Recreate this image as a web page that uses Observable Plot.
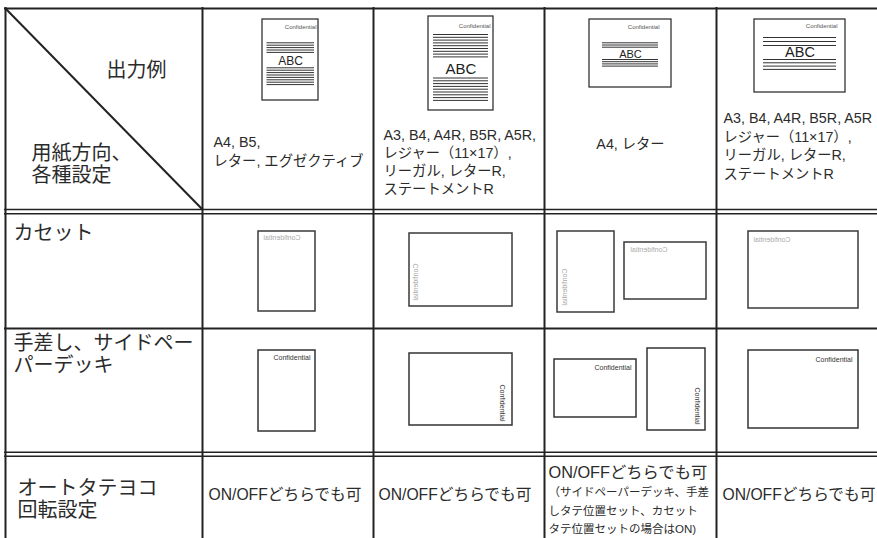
<!DOCTYPE html>
<html><head><meta charset="utf-8">
<script src="https://cdn.jsdelivr.net/npm/d3@7"></script>
<script src="https://cdn.jsdelivr.net/npm/@observablehq/plot@0.6"></script>
<style>html,body{margin:0;padding:0;background:#fff;} #chart svg{display:block}</style>
</head><body><div id="chart"></div>
<script>
// ---- text content ----
const cornerTop = "出力例";
const cornerBottom = ["用紙方向、", "各種設定"];
const rowLabels = [["カセット"], ["手差し、サイドペー", "パーデッキ"], ["オートタテヨコ", "回転設定"]];
const paperSizes = [
  ["A4, B5,", "レター, エグゼクティブ"],
  ["A3, B4, A4R, B5R, A5R,", "レジャー（11×17）,", "リーガル, レターR,", "ステートメントR"],
  ["A4, レター"],
  ["A3, B4, A4R, B5R, A5R", "レジャー（11×17）,", "リーガル, レターR,", "ステートメントR"]
];
const autoRotate = ["ON/OFFどちらでも可", "ON/OFFどちらでも可", "ON/OFFどちらでも可", "ON/OFFどちらでも可"];
const autoRotateNote = ["（サイドペーパーデッキ、手差", "しタテ位置セット、カセット", "タテ位置セットの場合はON)"];
const sampleWord = "ABC";
const stampWord = "Confidential";

// ---- layout of the table (pixels) ----
const colLines = [5, 202, 373, 544, 716];
const tableTop = 8, tableRight = 900, tableBottom = 560;
const singleRows = [8, 328];
const doubleRows = [209, 213.3, 451.7, 455.7];
const sizeTextPos = [
  {x: 213, ys: [142, 161], anchor: "start"},
  {x: 383, ys: [135, 153, 171, 189], anchor: "start"},
  {x: 630, ys: [144], anchor: "middle"},
  {x: 723, ys: [118, 137, 155, 174], anchor: "start"}
];
const rowLabelPos = [{x: 13, ys: [233]}, {x: 13, ys: [343, 365]}, {x: 17, ys: [488, 510]}];
const autoPos = [{x: 208, y: 494, s: 15.7}, {x: 378, y: 494, s: 15.7}, {x: 548, y: 472, s: 16.3}, {x: 722, y: 494, s: 15.7}];
const notePos = {x: 548, ys: [492, 511, 529]};

const headerIcons = [
  {x1: 262, x2: 318, y1: 19, y2: 100, lx1: 266.5, lx2: 314, top: [42.3, 5, 2.4], bot: [67.3, 8, 2.4], abcY: 60.7, abcSize: 12, confX: 316, confY: 27},
  {x1: 428, x2: 493, y1: 16, y2: 110, lx1: 433, lx2: 488, top: [34, 9, 2.8], bot: [77.5, 9, 2.8], abcY: 68.5, abcSize: 15, confX: 490, confY: 26},
  {x1: 589, x2: 671, y1: 19, y2: 87, lx1: 602, lx2: 658, top: [42.3, 3, 2.2], bot: [59, 4, 2.2], abcY: 54, abcSize: 11, confX: 659, confY: 27},
  {x1: 754, x2: 845, y1: 19, y2: 92, lx1: 763, lx2: 836, top: [37, 3, 4], bot: [59, 4, 3.3], abcY: 52, abcSize: 14.5, confX: 837, confY: 26}
];
const cassetteSheets = [
  {x1: 258, x2: 315, y1: 231, y2: 311}, {x1: 409, x2: 512, y1: 233, y2: 306},
  {x1: 557, x2: 614, y1: 231, y2: 312}, {x1: 624, x2: 706, y1: 242, y2: 299},
  {x1: 748, x2: 858, y1: 231, y2: 308}
];
const manualSheets = [
  {x1: 258, x2: 315, y1: 350, y2: 431}, {x1: 409, x2: 512, y1: 353, y2: 425},
  {x1: 554, x2: 636, y1: 359, y2: 417}, {x1: 647, x2: 705, y1: 348, y2: 430},
  {x1: 748, x2: 858, y1: 350, y2: 428}
];
// stamps seen through the sheet (mirrored, grey)
const cassetteStampsH = [{x: 263, y: 237}, {x: 630, y: 249}, {x: 753, y: 239}];
const cassetteStampsV = [{x: 415, y: 263}, {x: 564, y: 268}];
// stamps printed face up
const manualStampsH = [{x: 310, y: 357}, {x: 631, y: 367}, {x: 852, y: 359}];
const manualStampsV = [{x: 502, y: 421}, {x: 697, y: 424}];

// ---- derived tables for the marks ----
const ink = "#2b2b2b";
const JP = "'Liberation Sans', 'Noto Sans CJK JP', sans-serif";
const LAT = "'Liberation Sans', Arial, sans-serif";
const GREY_H = "#aaaaaa", GREY_V = "#a9a9a9";

const vRules = colLines.map(x => ({x, y1: tableTop - 1, y2: tableBottom}));
const hSingle = singleRows.map(y => ({y, x1: 4, x2: tableRight}));
const hDouble = doubleRows.map(y => ({y, x1: 4, x2: tableRight}));
const diagonal = [{x1: colLines[0], y1: tableTop, x2: colLines[1], y2: doubleRows[0]}];

const iconStripes = headerIcons.flatMap(ic => {
  const out = [];
  for (const [s, n, st] of [ic.top, ic.bot]) for (let i = 0; i < n; i++) out.push({y: s + i * st, x1: ic.lx1, x2: ic.lx2});
  return out;
});
const abcLabels = headerIcons.map(ic => ({x: (ic.x1 + ic.x2) / 2, y: ic.abcY, size: ic.abcSize, t: sampleWord}));
const confHeader = headerIcons.map(ic => ({x: ic.confX, y: ic.confY, t: stampWord}));

const sizeTexts = paperSizes.flatMap((lines, i) => lines.map((t, j) => ({t, x: sizeTextPos[i].x, y: sizeTextPos[i].ys[j], a: sizeTextPos[i].anchor})));
const rowTexts = rowLabels.flatMap((lines, i) => lines.map((t, j) => ({t, x: rowLabelPos[i].x, y: rowLabelPos[i].ys[j]})));
const cornerTexts = [{t: cornerTop, x: 106, y: 70}, ...cornerBottom.map((t, j) => ({t, x: 31, y: [153, 175][j]}))];
const autoTexts = autoRotate.map((t, i) => ({t, ...autoPos[i]}));
const noteTexts = autoRotateNote.map((t, j) => ({t, x: notePos.x, y: notePos.ys[j]}));

const stamp = (arr) => arr.map(d => ({...d, t: stampWord}));

const plot = Plot.plot({
  width: 877, height: 538,
  marginTop: 0, marginRight: 0, marginBottom: 0, marginLeft: 0,
  x: {domain: [0, 877], range: [0, 877], axis: null},
  y: {domain: [0, 538], range: [0, 538], axis: null},
  style: {background: "#fff"},
  marks: [
    // header icons
    Plot.rect(headerIcons, {x1: "x1", x2: "x2", y1: "y1", y2: "y2", fill: "#fff", stroke: "#333", strokeWidth: 1.3}),
    Plot.ruleY(iconStripes, {y: "y", x1: "x1", x2: "x2", stroke: "#333", strokeWidth: 1}),
    Plot.text(abcLabels, {x: "x", y: "y", text: "t", fontSize: "size", fontFamily: LAT, fill: "#222", stroke: "#fff", strokeWidth: 2, paintOrder: "stroke"}),
    Plot.text(confHeader, {x: "x", y: "y", text: "t", textAnchor: "end", fontSize: 6, fontFamily: LAT, fill: "#555"}),
    // body sheets
    Plot.rect(cassetteSheets, {x1: "x1", x2: "x2", y1: "y1", y2: "y2", fill: "#fff", stroke: "#3a3a3a", strokeWidth: 1.5}),
    Plot.rect(manualSheets, {x1: "x1", x2: "x2", y1: "y1", y2: "y2", fill: "#fff", stroke: "#333", strokeWidth: 1.5}),
    Plot.text(stamp(cassetteStampsH), {x: "x", y: "y", text: "t", textAnchor: "end", fontSize: 7, fontFamily: LAT, fill: GREY_H}),
    Plot.text(stamp(cassetteStampsV), {x: "x", y: "y", text: "t", textAnchor: "start", rotate: 90, fontSize: 7, fontFamily: LAT, fill: GREY_V}),
    Plot.text(stamp(manualStampsH), {x: "x", y: "y", text: "t", textAnchor: "end", fontSize: 7, fontFamily: LAT, fill: "#333"}),
    Plot.text(stamp(manualStampsV), {x: "x", y: "y", text: "t", textAnchor: "end", rotate: 90, fontSize: 7, fontFamily: LAT, fill: "#333"}),
    // table lines
    Plot.ruleX(vRules, {x: "x", y1: "y1", y2: "y2", stroke: "#222", strokeWidth: 2}),
    Plot.ruleY(hSingle, {y: "y", x1: "x1", x2: "x2", stroke: "#222", strokeWidth: 2}),
    Plot.ruleY(hDouble, {y: "y", x1: "x1", x2: "x2", stroke: "#222", strokeWidth: 1.6}),
    Plot.link(diagonal, {x1: "x1", y1: "y1", x2: "x2", y2: "y2", stroke: "#222", strokeWidth: 2}),
    // texts
    Plot.text(cornerTexts, {x: "x", y: "y", text: "t", textAnchor: "start", fontSize: 20, fontFamily: JP, fill: ink}),
    Plot.text(rowTexts, {x: "x", y: "y", text: "t", textAnchor: "start", fontSize: 20, fontFamily: JP, fill: ink}),
    Plot.text(sizeTexts.filter(d => d.a === "start"), {x: "x", y: "y", text: "t", textAnchor: "start", fontSize: 14.3, fontFamily: JP, fill: ink}),
    Plot.text(sizeTexts.filter(d => d.a === "middle"), {x: "x", y: "y", text: "t", textAnchor: "middle", fontSize: 14.3, fontFamily: JP, fill: ink}),
    Plot.text(autoTexts, {x: "x", y: "y", text: "t", textAnchor: "start", fontSize: "s", fontFamily: JP, fill: ink}),
    Plot.text(noteTexts, {x: "x", y: "y", text: "t", textAnchor: "start", fontSize: 11.5, fontFamily: JP, fill: ink})
  ]
});

// mirror the stamps seen through the back of the sheet
function mirror(sel, rotated) {
  d3.select(plot).selectAll(sel).each(function() {
    const el = this;
    let tr = el.getAttribute("transform");
    if (!tr) {
      const x = +(el.getAttribute("x") || 0), y = +(el.getAttribute("y") || 0);
      el.removeAttribute("x"); el.removeAttribute("y");
      tr = `translate(${x},${y})`;
    }
    el.setAttribute("transform", tr + (rotated ? " scale(1,-1)" : " scale(-1,1)"));
  });
}
mirror(`g[fill="${GREY_H}"] text`, false);
mirror(`g[fill="${GREY_V}"] text`, true);
document.getElementById("chart").appendChild(plot);
</script></body></html>
